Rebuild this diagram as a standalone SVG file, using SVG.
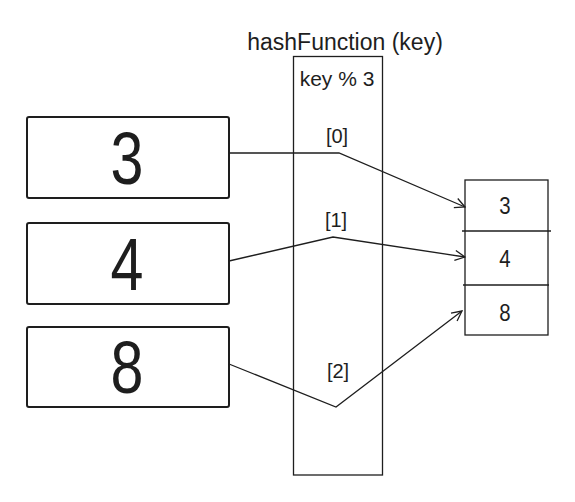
<svg xmlns="http://www.w3.org/2000/svg" width="575" height="502" viewBox="0 0 575 502">
<defs>
<style>
.box{fill:#fff;stroke:#1e1e1e;stroke-width:2}
.thin{fill:none;stroke:#1e1e1e;stroke-width:1.3}
.t{font-family:"Liberation Sans",sans-serif;fill:#1e1e1e;text-anchor:middle}
.big{font-size:74px}
.mid{font-size:23px}
.sm{font-size:21px}
.br{font-size:20px}
.num{font-size:24px}
</style>
<marker id="ah" viewBox="0 0 12 12" refX="11" refY="6" markerWidth="12" markerHeight="12" markerUnits="userSpaceOnUse" orient="auto">
<path d="M1,1 L11,6 L1,11" fill="none" stroke="#1e1e1e" stroke-width="1.3"/>
</marker>
</defs>
<rect width="575" height="502" fill="#fff"/>
<g id="hash">
<text class="t mid" x="345" y="50">hashFunction (key)</text>
<rect class="thin" x="293.5" y="56.5" width="89" height="418.5"/>
<text class="t sm" x="337" y="86">key % 3</text>
</g>
<g id="n3"><rect class="box" x="27" y="117" width="202" height="81" rx="2"/><text class="t big" transform="translate(127,184) scale(0.8,1)">3</text></g>
<g id="n4"><rect class="box" x="27" y="223" width="202" height="81" rx="2"/><text class="t big" transform="translate(127,290) scale(0.8,1)">4</text></g>
<g id="n8"><rect class="box" x="27" y="327" width="202" height="80" rx="2"/><text class="t big" transform="translate(127,393) scale(0.8,1)">8</text></g>
<g id="array">
<rect class="thin" x="465" y="180" width="83" height="155"/>
<line class="thin" x1="462" y1="231" x2="551" y2="231"/>
<line class="thin" x1="463" y1="285" x2="549" y2="285"/>
<text class="t num" transform="translate(505,214) scale(0.85,1)">3</text>
<text class="t num" transform="translate(505,267) scale(0.85,1)">4</text>
<text class="t num" transform="translate(505,321) scale(0.85,1)">8</text>
</g>
<g id="connectors">
<polyline class="thin" points="229,153 339,153 465,207" marker-end="url(#ah)"/>
<polyline class="thin" points="229,261 333,237 465,257" marker-end="url(#ah)"/>
<polyline class="thin" points="229,364 336,407 462,311" marker-end="url(#ah)"/>
<text class="t br" x="337" y="143">[0]</text>
<text class="t br" x="336" y="227">[1]</text>
<text class="t br" x="338" y="378">[2]</text>
</g>
</svg>
